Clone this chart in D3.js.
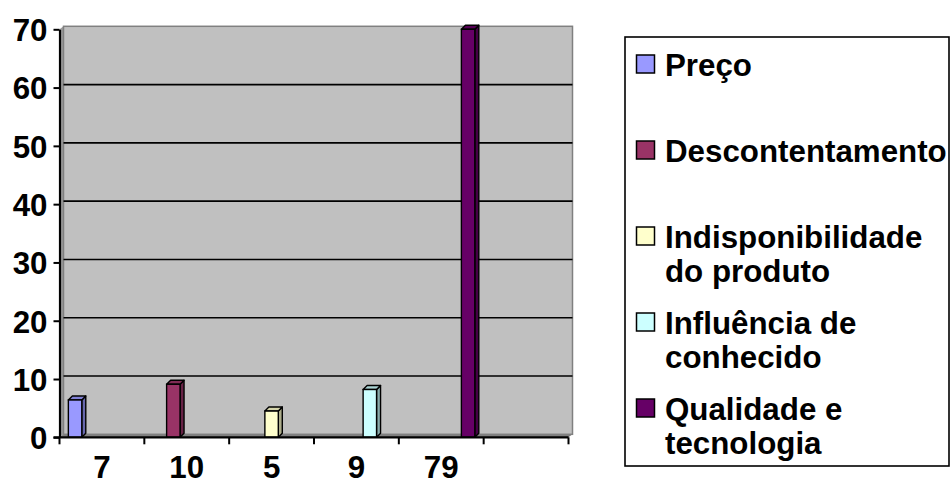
<!DOCTYPE html>
<html>
<head>
<meta charset="utf-8">
<script src="https://cdn.jsdelivr.net/npm/d3@7"></script>
<style>
  body { margin: 0; background: #fff; }
  svg { display: block; }
  text { font-family: "Liberation Sans", Arial, Helvetica, sans-serif; font-weight: bold; fill: #000; }
</style>
</head>
<body>
<svg id="chart" width="952" height="485"></svg>
<script>
// Category labels along the x axis (response counts); the last slot is empty
const categories = ["7", "10", "5", "9", "79", ""];
// One series per reason; each series has a column only in its own category
const seriesNames = ["Preço", "Descontentamento", "Indisponibilidade do produto", "Influência de conhecido", "Qualidade e tecnologia"];
const seriesValues = [6.4, 9.1, 4.5, 8.2, 71.8];
const seriesColors = ["#9999FF", "#993366", "#FFFFCC", "#CCFFFF", "#660066"];
const yTicks = [0, 10, 20, 30, 40, 50, 60, 70];
const gridValues = [10, 20, 30, 40, 50, 60];

const svg = d3.select("#chart");
const FONT = 31.3;

// Plot geometry (front plane) and the 3D depth offset of the back wall
const plot = { left: 59.5, right: 568.5, top: 29.3, bottom: 437.3 };
const depth = { dx: 4, dy: -3 };
const barDepth = { dx: 4, dy: -4 };

const y = d3.scaleLinear().domain([0, 70]).range([plot.bottom, plot.top]).clamp(true);
const x = d3.scaleBand().domain(categories).range([plot.left, plot.right]).padding(0);
const xs = d3.scaleBand().domain(seriesNames).range([0, x.bandwidth()])
  .paddingInner(0).paddingOuter(0.66);

const g = svg.append("g");
const pts = arr => arr.map(p => p.join(",")).join(" ");

// Left side wall
g.append("polygon")
  .attr("points", pts([
    [plot.left, y(70)], [plot.left + depth.dx, y(70) + depth.dy],
    [plot.left + depth.dx, y(0) + depth.dy], [plot.left, y(0)]
  ]))
  .attr("fill", "#9a9a9a");

// Floor
g.append("polygon")
  .attr("points", pts([
    [plot.left, y(0)], [plot.left + depth.dx, y(0) + depth.dy],
    [plot.right + depth.dx, y(0) + depth.dy], [plot.right, y(0)]
  ]))
  .attr("fill", "#808080");

// Back wall
g.append("rect")
  .attr("x", plot.left + depth.dx)
  .attr("y", y(70) + depth.dy)
  .attr("width", plot.right - plot.left)
  .attr("height", y(0) - y(70))
  .attr("fill", "#C0C0C0")
  .attr("stroke", "#808080")
  .attr("stroke-width", 1.5);

// Gridlines on the back wall
g.selectAll("line.grid").data(gridValues).join("line")
  .attr("class", "grid")
  .attr("x1", plot.left + depth.dx)
  .attr("x2", plot.right + depth.dx)
  .attr("y1", d => y(d) + depth.dy)
  .attr("y2", d => y(d) + depth.dy)
  .attr("stroke", "#000")
  .attr("stroke-width", 1.6);

// Columns: front face, top face and right side face
const bars = seriesNames.map((name, i) => ({
  name, value: seriesValues[i], color: seriesColors[i], category: categories[i]
}));

const barG = g.selectAll("g.bar").data(bars).join("g").attr("class", "bar");
barG.each(function(d) {
  const sel = d3.select(this);
  const x0 = x(d.category) + xs(d.name);
  const w = xs.bandwidth();
  const yt = y(d.value);
  const yb = y(0);
  const base = d3.color(d.color);
  sel.append("polygon")
    .attr("points", pts([[x0 + w, yt], [x0 + w + barDepth.dx, yt + barDepth.dy],
      [x0 + w + barDepth.dx, yb + barDepth.dy], [x0 + w, yb]]))
    .attr("fill", base.darker(1.1))
    .attr("stroke", "#000").attr("stroke-width", 1.4).attr("stroke-linejoin", "round");
  sel.append("polygon")
    .attr("points", pts([[x0, yt], [x0 + barDepth.dx, yt + barDepth.dy],
      [x0 + w + barDepth.dx, yt + barDepth.dy], [x0 + w, yt]]))
    .attr("fill", base.darker(0.5))
    .attr("stroke", "#000").attr("stroke-width", 1.4).attr("stroke-linejoin", "round");
  sel.append("rect")
    .attr("x", x0).attr("y", yt)
    .attr("width", w).attr("height", yb - yt)
    .attr("fill", d.color)
    .attr("stroke", "#000").attr("stroke-width", 1.4);
});

// Y axis
const yAxis = d3.axisLeft(y).tickValues(yTicks).tickSize(6).tickSizeOuter(0).tickPadding(6);
const yAxisG = svg.append("g").attr("transform", `translate(${plot.left},0)`).call(yAxis);
yAxisG.select(".domain").attr("stroke", "#000").attr("stroke-width", 2.2);
yAxisG.selectAll(".tick line").attr("stroke", "#000").attr("stroke-width", 2);
yAxisG.selectAll(".tick text")
  .style("font-size", FONT + "px").style("font-family", null).attr("fill", "#000")
  .attr("dy", "0.36em");

// X axis: line, ticks at category boundaries, labels centred in each slot
svg.append("line")
  .attr("x1", plot.left - 6).attr("x2", plot.right)
  .attr("y1", y(0)).attr("y2", y(0))
  .attr("stroke", "#000").attr("stroke-width", 2.2);
const bounds = categories.map(c => x(c)).concat([x.range()[1]]);
svg.selectAll("line.xtick").data(bounds).join("line")
  .attr("class", "xtick")
  .attr("x1", d => d).attr("x2", d => d)
  .attr("y1", y(0)).attr("y2", y(0) + 7)
  .attr("stroke", "#000").attr("stroke-width", 2);
svg.selectAll("text.xlabel").data(categories).join("text")
  .attr("class", "xlabel")
  .attr("x", d => x(d) + x.bandwidth() / 2)
  .attr("y", 477.5)
  .attr("text-anchor", "middle")
  .style("font-size", FONT + "px")
  .text(d => d);

// Legend
const legend = { left: 625, top: 37, right: 949, bottom: 466 };
svg.append("rect")
  .attr("x", legend.left).attr("y", legend.top)
  .attr("width", legend.right - legend.left)
  .attr("height", legend.bottom - legend.top)
  .attr("fill", "#fff").attr("stroke", "#000").attr("stroke-width", 1.6);

const textX = 665;
const maxW = legend.right - textX - 1;
const lineH = 34;
const entryStep = 86;
const firstCenter = 65;

bars.forEach((d, i) => {
  const cy = firstCenter + i * entryStep;
  svg.append("rect")
    .attr("x", 636.5).attr("y", cy - 10)
    .attr("width", 18).attr("height", 18)
    .attr("fill", d.color).attr("stroke", "#000").attr("stroke-width", 1.5);
  const t = svg.append("text")
    .attr("x", textX).attr("y", cy + 11)
    .style("font-size", FONT + "px");
  // greedy word wrap to the legend width
  const words = d.name.split(" ");
  let line = [];
  let lineNo = 0;
  let tspan = t.append("tspan").attr("x", textX).attr("y", cy + 11);
  words.forEach(word => {
    line.push(word);
    tspan.text(line.join(" "));
    if (tspan.node().getComputedTextLength() > maxW && line.length > 1) {
      line.pop();
      tspan.text(line.join(" "));
      line = [word];
      lineNo++;
      tspan = t.append("tspan").attr("x", textX).attr("y", cy + 11 + lineNo * lineH).text(word);
    }
  });
});
</script>
</body>
</html>
